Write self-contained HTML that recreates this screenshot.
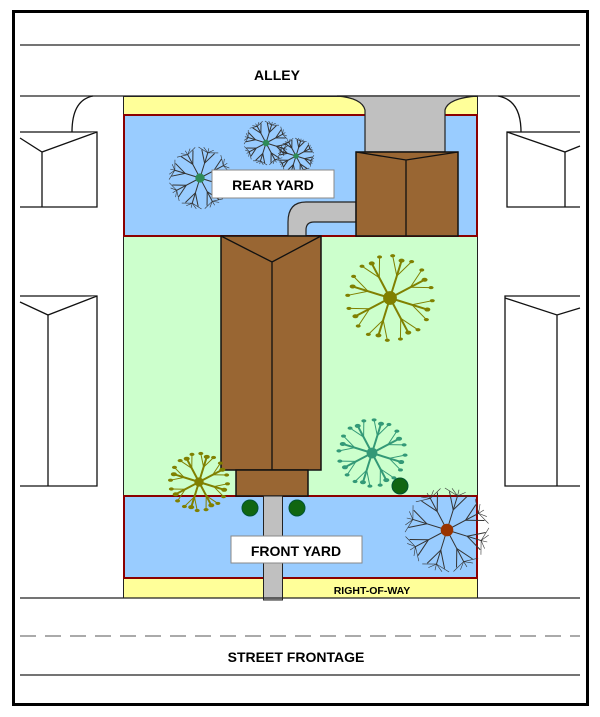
<!DOCTYPE html>
<html><head><meta charset="utf-8"><style>
html,body{margin:0;padding:0;background:#fff}
svg{display:block}
text{font-family:"Liberation Sans",sans-serif;font-weight:bold}
</style></head><body>
<svg id="s" width="600" height="717" viewBox="0 0 600 717" xmlns="http://www.w3.org/2000/svg">
<rect x="13.5" y="11.5" width="574" height="693" fill="#fff" stroke="#000" stroke-width="3"/>
<line x1="20" y1="45" x2="580" y2="45" stroke="#222" stroke-width="1.2"/>
<line x1="20" y1="96" x2="580" y2="96" stroke="#222" stroke-width="1.2"/>
<text x="277" y="80" font-size="14" text-anchor="middle">ALLEY</text>
<!-- neighbors -->
<g fill="#fff" stroke="#111" stroke-width="1.3">
<path d="M20,132 H97 V207 H20"/><path d="M20,138 L42,152 L97,132 M42,152 V207"/>
<path d="M93,96 Q72,100 72,132"/>
<path d="M20,296 H97 V486 H20"/><path d="M20,302 L48,315 L97,296 M48,315 V486"/>
<path d="M580,132 H507 V207 H580"/><path d="M507,132 L565,152 L580,146 M565,152 V207"/>
<path d="M498,96 Q521,100 521,132"/>
<path d="M580,296 H505 V486 H580"/><path d="M505,298 L557,315 L580,308 M557,315 V486"/>
</g>
<!-- lot -->
<rect x="123.5" y="96.5" width="354" height="20" fill="#ffff99" stroke="#222"/>
<rect x="123.5" y="236" width="354" height="260" fill="#ccffcc" stroke="#222"/>
<rect x="123.5" y="578" width="354" height="20" fill="#ffff99" stroke="#222"/>
<rect x="124" y="115" width="353" height="121" fill="#99ccff" stroke="#8b0000" stroke-width="2"/>
<rect x="124" y="496" width="353" height="82" fill="#99ccff" stroke="#8b0000" stroke-width="2"/>
<!-- driveway -->
<path d="M337,96 L445,96 L478,96 Q448,98 445,110 L445,152 L365,152 L365,110 Q362,98 337,96 Z" fill="#c0c0c0" stroke="#222" stroke-width="1.2"/>
<path d="M356,202 L306,202 Q288,202 288,222 L288,236 L306,236 L306,230 Q306,222 314,222 L356,222 Z" fill="#c0c0c0" stroke="#222" stroke-width="1.2"/>
<!-- garage -->
<rect x="356" y="152" width="102" height="84" fill="#996633" stroke="#111" stroke-width="1.5"/>
<path d="M356,152 L406,160 L458,152 M406,160 V236" fill="none" stroke="#111" stroke-width="1.3"/>
<!-- house -->
<rect x="221" y="236" width="100" height="234" fill="#996633" stroke="#111" stroke-width="1.5"/>
<path d="M221,236 L272,262 L321,236 M272,262 V470" fill="none" stroke="#111" stroke-width="1.3"/>
<rect x="236" y="470" width="72" height="26" fill="#996633" stroke="#111" stroke-width="1.5"/>
<rect x="263.5" y="496" width="19" height="104" fill="#c0c0c0" stroke="#222"/>
<line x1="20" y1="598" x2="580" y2="598" stroke="#222" stroke-width="1.2"/>
<line x1="20" y1="636" x2="580" y2="636" stroke="#aaa" stroke-width="2" stroke-dasharray="16,9"/>
<line x1="20" y1="675" x2="580" y2="675" stroke="#222" stroke-width="1.2"/>
<text x="296" y="662" font-size="14" text-anchor="middle">STREET FRONTAGE</text>
<text x="372" y="594" font-size="10.5" text-anchor="middle">RIGHT-OF-WAY</text>
<g id="trees"></g>
<rect x="212" y="170" width="122" height="28" fill="#fff" stroke="#888"/>
<text x="273" y="190" font-size="14" text-anchor="middle">REAR YARD</text>
<rect x="231" y="536" width="131" height="27" fill="#fff" stroke="#888"/>
<text x="296" y="556" font-size="14" text-anchor="middle">FRONT YARD</text>
</svg>
<script>
var g=document.getElementById('trees'),ns='http://www.w3.org/2000/svg',h='';
function tree(cx,cy,r,col,type){
 var n=8;
 for(var i=0;i<n;i++){var a=i*2*Math.PI/n+0.3;
  var ex=cx+Math.cos(a)*r*0.85,ey=cy+Math.sin(a)*r*0.85;
  h+='<line x1="'+cx+'" y1="'+cy+'" x2="'+ex+'" y2="'+ey+'" stroke="'+(type?'#333':col)+'" stroke-width="'+(type?1:2)+'"/>';
  for(var j=-1;j<=1;j+=2){var b=a+j*0.5,mx=cx+Math.cos(a)*r*0.5,my=cy+Math.sin(a)*r*0.5;
   var fx=mx+Math.cos(b)*r*0.45,fy=my+Math.sin(b)*r*0.45;
   h+='<line x1="'+mx+'" y1="'+my+'" x2="'+fx+'" y2="'+fy+'" stroke="'+(type?'#333':col)+'" stroke-width="1"/>';
   if(!type)h+='<ellipse cx="'+fx+'" cy="'+fy+'" rx="2.5" ry="1.6" fill="'+col+'"/>';}
  if(type){for(var k=0;k<5;k++){var c=a-0.35+k*0.17;h+='<line x1="'+ex+'" y1="'+ey+'" x2="'+(cx+Math.cos(c)*r)+'" y2="'+(cy+Math.sin(c)*r)+'" stroke="#333" stroke-width="0.6"/>';}}
  if(!type)h+='<ellipse cx="'+ex+'" cy="'+ey+'" rx="3" ry="2" fill="'+col+'"/>';
 }
 h+='<circle cx="'+cx+'" cy="'+cy+'" r="'+(r*0.15)+'" fill="'+col+'"/>';
}
tree(200,178,31,'#2e8b57',1);tree(266,143,22,'#2e8b57',1);tree(296,156,18,'#2e8b57',1);
tree(390,298,46,'#808000',0);tree(372,453,36,'#339977',0);tree(199,482,31,'#808000',0);
tree(447,530,42,'#993300',1);
[[400,486],[250,508],[297,508]].forEach(function(p){h+='<circle cx="'+p[0]+'" cy="'+p[1]+'" r="8" fill="#116611" stroke="#053" />';});
g.innerHTML=h;
</script>
</body></html>
